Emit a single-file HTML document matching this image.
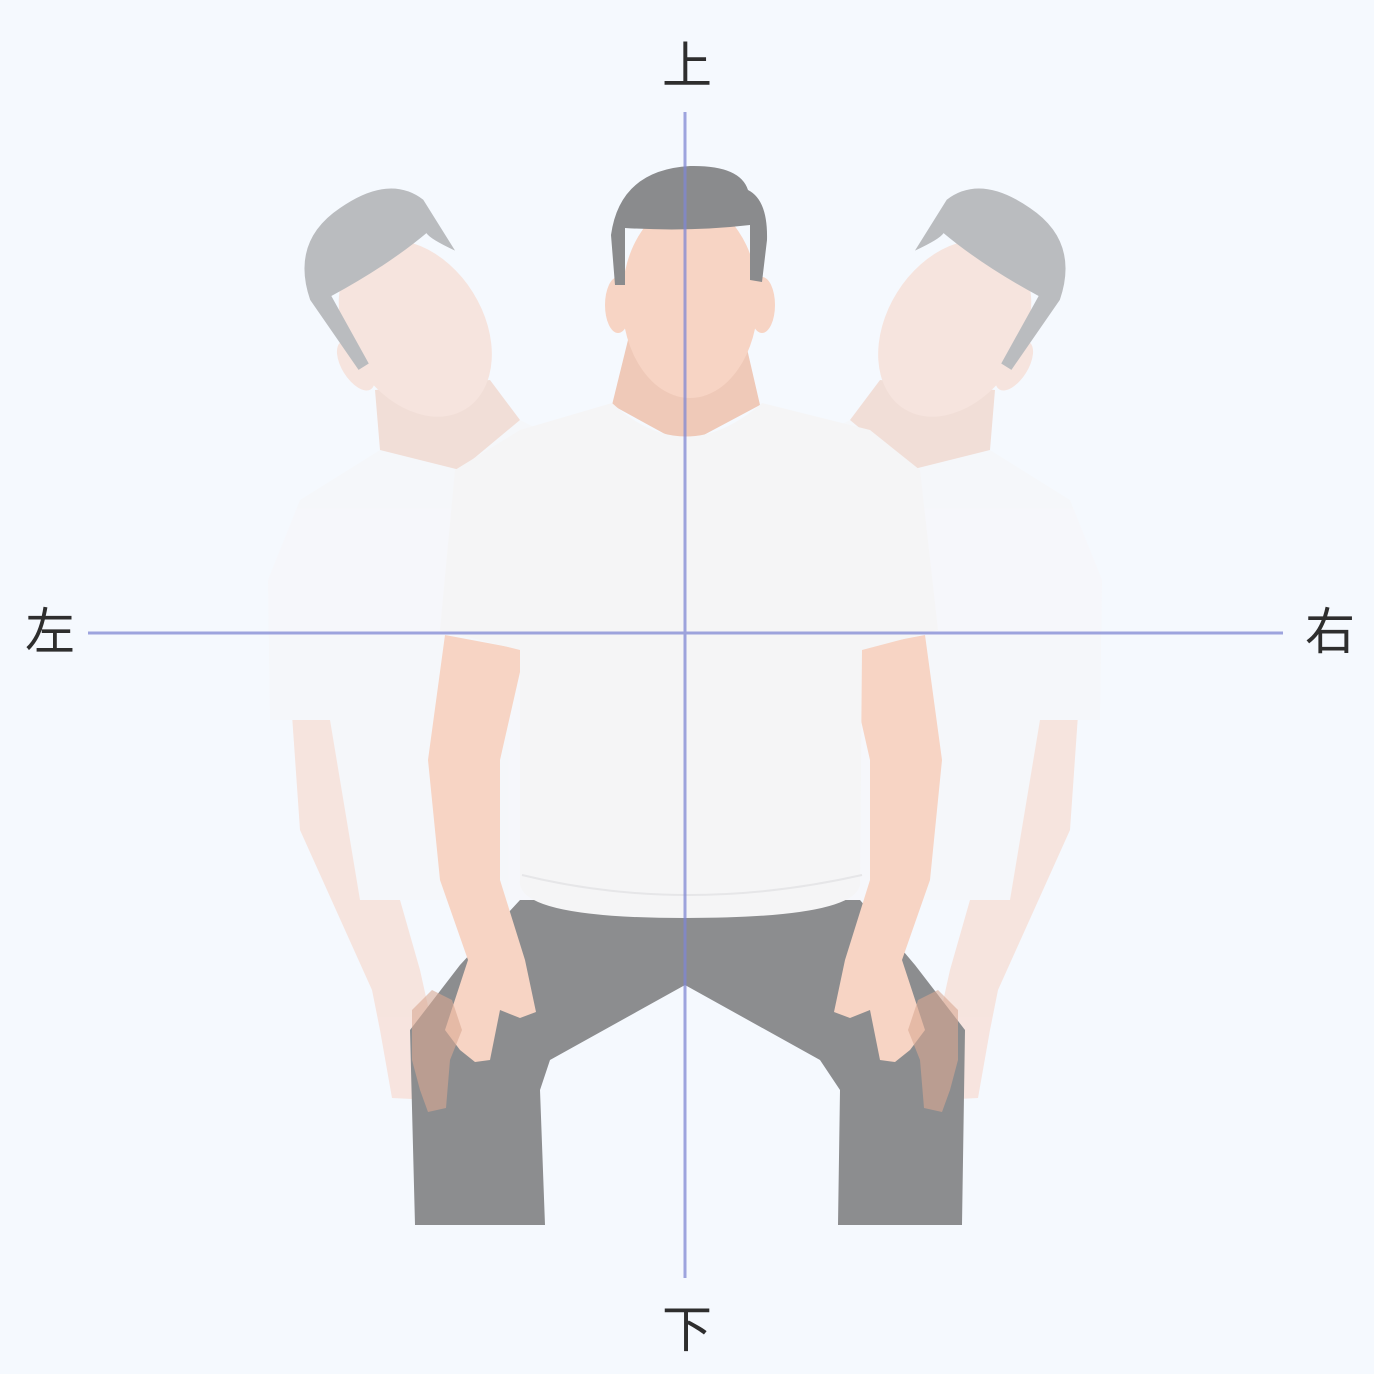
<!DOCTYPE html>
<html><head><meta charset="utf-8"><style>
html,body{margin:0;padding:0;background:#f5f9fe;}
svg{display:block;}
text{font-family:"Liberation Sans","Noto Sans CJK SC",sans-serif;font-size:50px;fill:#2e2e2e;text-anchor:middle;dominant-baseline:central;}
</style></head><body>
<svg width="1374" height="1374" viewBox="0 0 1374 1374">
<rect width="1374" height="1374" fill="#f5f9fe"/>
<defs>
<g id="side">
  <path d="M292,715 L375,715 L380,830 L420,970 L440,1060 L432,1100 L392,1098 L380,1030 L372,990 L300,830 Z" fill="#f7d4c4"/>
  <path d="M300,500 L380,450 L520,420 L560,440 L560,900 L360,900 L330,720 L270,720 L268,580 Z" fill="#f6f6f7"/>
  <path d="M375,390 L490,380 L520,420 L460,470 L380,450 Z" fill="#efc9b8"/>
  <g transform="rotate(-32 410 320)">
    <ellipse cx="410" cy="330" rx="68" ry="95" fill="#f7d4c4"/>
    <ellipse cx="340" cy="330" rx="14" ry="28" fill="#f7d4c4"/>
    <path d="M340,335 L336,250 Q350,190 410,188 Q470,185 485,225 L485,285 Q470,262 470,255 Q420,262 356,258 L352,335 Z" fill="#8a8b8d"/>
  </g>
</g>
<path id="sidehand" d="M412,1010 L432,990 L452,1000 L462,1030 L450,1060 L446,1108 L428,1112 L420,1090 L412,1060 Z" fill="#d9a893"/>
</defs>
<g opacity="0.55"><use href="#side"/></g>
<g opacity="0.55" transform="translate(1370,0) scale(-1,1)"><use href="#side"/></g>
<g>
  <path d="M520,900 L860,900 L915,965 L965,1030 L962,1225 L838,1225 L840,1090 L820,1060 L685,985 L550,1060 L540,1090 L545,1225 L415,1225 L410,1030 L460,965 Z" fill="#8c8d8f"/>
  <path d="M445,635 L428,760 L440,880 L468,960 L445,1030 L460,1050 L475,1062 L490,1060 L500,1010 L520,1018 L536,1012 L525,960 L500,880 L500,760 L525,650 Z" fill="#f7d4c4"/>
  <path d="M925,635 L942,760 L930,880 L902,960 L925,1030 L910,1050 L895,1062 L880,1060 L870,1010 L850,1018 L834,1012 L845,960 L870,880 L870,760 L845,650 Z" fill="#f7d4c4"/>
  <path d="M628,340 L745,340 L760,405 L685,445 L612,405 Z" fill="#efc9b8"/>
  <path d="M520,430 L612,403 Q685,470 762,403 L870,430 L920,470 L938,630 L862,650 L860,880 Q866,918 685,918 Q515,918 520,880 L520,650 L440,630 L455,470 Z" fill="#f5f5f6"/>
  <path d="M522,875 Q685,915 862,875" fill="none" stroke="#e6e6e8" stroke-width="2"/>
  <ellipse cx="690" cy="300" rx="68" ry="98" fill="#f7d4c4"/>
  <ellipse cx="618" cy="305" rx="13" ry="28" fill="#f7d4c4"/>
  <ellipse cx="762" cy="305" rx="13" ry="28" fill="#f7d4c4"/>
  <path d="M615,285 L611,235 Q620,170 690,166 Q740,165 748,190 Q768,200 767,240 L762,282 L750,280 L750,225 Q690,232 625,228 L625,285 Z" fill="#8a8b8d"/>
</g>
<g opacity="0.6">
  <use href="#sidehand"/>
  <use href="#sidehand" transform="translate(1370,0) scale(-1,1)"/>
</g>
<g opacity="0.75">
  <line x1="88" y1="633" x2="1283" y2="633" stroke="#7f87d3" stroke-width="3"/>
  <line x1="685" y1="112" x2="685" y2="1278" stroke="#7f87d3" stroke-width="3"/>
</g>
<text x="687" y="66">上</text>
<text x="687" y="1330">下</text>
<text x="50" y="632">左</text>
<text x="1330" y="632">右</text>
</svg>
</body></html>
